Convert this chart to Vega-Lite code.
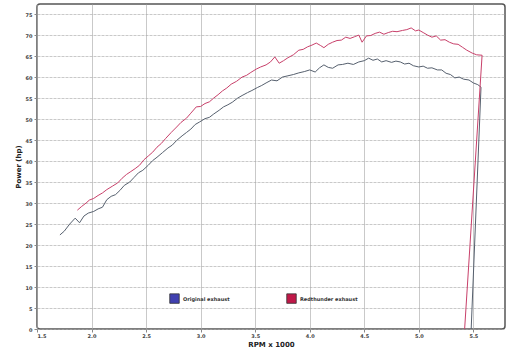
{
  "$schema": "https://vega.github.io/schema/vega-lite/v6.json",
  "width": 468,
  "height": 325,
  "autosize": {"type": "none"},
  "padding": {"left": 37, "top": 4, "right": 4, "bottom": 21},
  "background": "white",
  "config": {
    "view": {"stroke": "#555", "strokeWidth": 1.5, "cornerRadius": 3},
    "font": "DejaVu Sans",
    "axis": {"labelFontSize": 5, "labelColor": "#444", "labelFontWeight": "bold", "titleFontSize": 7, "titleFontWeight": "bold", "titleColor": "#222", "domain": false, "tickColor": "#888", "tickSize": 3}
  },
  "data": {"values": [
    {"series": "Original exhaust", "rpm": 1.71, "hp": 22.4},
    {"series": "Original exhaust", "rpm": 1.75, "hp": 23.3},
    {"series": "Original exhaust", "rpm": 1.80, "hp": 25.0},
    {"series": "Original exhaust", "rpm": 1.85, "hp": 26.4},
    {"series": "Original exhaust", "rpm": 1.89, "hp": 25.3},
    {"series": "Original exhaust", "rpm": 1.93, "hp": 26.9},
    {"series": "Original exhaust", "rpm": 1.97, "hp": 27.6},
    {"series": "Original exhaust", "rpm": 2.02, "hp": 28.0},
    {"series": "Original exhaust", "rpm": 2.06, "hp": 28.6},
    {"series": "Original exhaust", "rpm": 2.10, "hp": 29.0},
    {"series": "Original exhaust", "rpm": 2.14, "hp": 30.8},
    {"series": "Original exhaust", "rpm": 2.18, "hp": 31.6},
    {"series": "Original exhaust", "rpm": 2.22, "hp": 32.0},
    {"series": "Original exhaust", "rpm": 2.26, "hp": 33.0},
    {"series": "Original exhaust", "rpm": 2.30, "hp": 34.2},
    {"series": "Original exhaust", "rpm": 2.35, "hp": 35.0},
    {"series": "Original exhaust", "rpm": 2.39, "hp": 36.1},
    {"series": "Original exhaust", "rpm": 2.43, "hp": 37.2},
    {"series": "Original exhaust", "rpm": 2.47, "hp": 37.8},
    {"series": "Original exhaust", "rpm": 2.52, "hp": 39.0},
    {"series": "Original exhaust", "rpm": 2.56, "hp": 40.1},
    {"series": "Original exhaust", "rpm": 2.60, "hp": 40.9},
    {"series": "Original exhaust", "rpm": 2.65, "hp": 42.0},
    {"series": "Original exhaust", "rpm": 2.70, "hp": 43.1},
    {"series": "Original exhaust", "rpm": 2.74, "hp": 43.8},
    {"series": "Original exhaust", "rpm": 2.78, "hp": 44.9},
    {"series": "Original exhaust", "rpm": 2.83, "hp": 46.0},
    {"series": "Original exhaust", "rpm": 2.87, "hp": 46.8},
    {"series": "Original exhaust", "rpm": 2.91, "hp": 47.6},
    {"series": "Original exhaust", "rpm": 2.95, "hp": 48.7},
    {"series": "Original exhaust", "rpm": 2.99, "hp": 49.3},
    {"series": "Original exhaust", "rpm": 3.04, "hp": 50.1},
    {"series": "Original exhaust", "rpm": 3.08, "hp": 50.4},
    {"series": "Original exhaust", "rpm": 3.12, "hp": 51.2},
    {"series": "Original exhaust", "rpm": 3.17, "hp": 52.1},
    {"series": "Original exhaust", "rpm": 3.21, "hp": 52.9},
    {"series": "Original exhaust", "rpm": 3.25, "hp": 53.4},
    {"series": "Original exhaust", "rpm": 3.29, "hp": 54.0},
    {"series": "Original exhaust", "rpm": 3.34, "hp": 55.0},
    {"series": "Original exhaust", "rpm": 3.38, "hp": 55.6},
    {"series": "Original exhaust", "rpm": 3.43, "hp": 56.3},
    {"series": "Original exhaust", "rpm": 3.47, "hp": 56.8},
    {"series": "Original exhaust", "rpm": 3.52, "hp": 57.5},
    {"series": "Original exhaust", "rpm": 3.56, "hp": 58.0},
    {"series": "Original exhaust", "rpm": 3.60, "hp": 58.6},
    {"series": "Original exhaust", "rpm": 3.65, "hp": 59.3},
    {"series": "Original exhaust", "rpm": 3.70, "hp": 59.1},
    {"series": "Original exhaust", "rpm": 3.75, "hp": 60.0},
    {"series": "Original exhaust", "rpm": 3.80, "hp": 60.3},
    {"series": "Original exhaust", "rpm": 3.85, "hp": 60.6},
    {"series": "Original exhaust", "rpm": 3.90, "hp": 61.0},
    {"series": "Original exhaust", "rpm": 3.95, "hp": 61.3},
    {"series": "Original exhaust", "rpm": 4.00, "hp": 61.7},
    {"series": "Original exhaust", "rpm": 4.05, "hp": 61.2},
    {"series": "Original exhaust", "rpm": 4.09, "hp": 62.2},
    {"series": "Original exhaust", "rpm": 4.13, "hp": 62.9},
    {"series": "Original exhaust", "rpm": 4.17, "hp": 62.3},
    {"series": "Original exhaust", "rpm": 4.21, "hp": 62.1},
    {"series": "Original exhaust", "rpm": 4.26, "hp": 62.9},
    {"series": "Original exhaust", "rpm": 4.30, "hp": 63.0},
    {"series": "Original exhaust", "rpm": 4.35, "hp": 63.3},
    {"series": "Original exhaust", "rpm": 4.40, "hp": 63.0},
    {"series": "Original exhaust", "rpm": 4.45, "hp": 63.6},
    {"series": "Original exhaust", "rpm": 4.50, "hp": 63.9},
    {"series": "Original exhaust", "rpm": 4.54, "hp": 64.5},
    {"series": "Original exhaust", "rpm": 4.58, "hp": 64.0},
    {"series": "Original exhaust", "rpm": 4.62, "hp": 64.3},
    {"series": "Original exhaust", "rpm": 4.66, "hp": 63.6},
    {"series": "Original exhaust", "rpm": 4.70, "hp": 63.9},
    {"series": "Original exhaust", "rpm": 4.75, "hp": 63.5},
    {"series": "Original exhaust", "rpm": 4.79, "hp": 63.8},
    {"series": "Original exhaust", "rpm": 4.83, "hp": 63.6},
    {"series": "Original exhaust", "rpm": 4.87, "hp": 63.1},
    {"series": "Original exhaust", "rpm": 4.91, "hp": 63.3},
    {"series": "Original exhaust", "rpm": 4.95, "hp": 62.7},
    {"series": "Original exhaust", "rpm": 5.00, "hp": 62.4},
    {"series": "Original exhaust", "rpm": 5.04, "hp": 62.6},
    {"series": "Original exhaust", "rpm": 5.08, "hp": 62.1},
    {"series": "Original exhaust", "rpm": 5.12, "hp": 62.2},
    {"series": "Original exhaust", "rpm": 5.17, "hp": 61.7},
    {"series": "Original exhaust", "rpm": 5.21, "hp": 61.7},
    {"series": "Original exhaust", "rpm": 5.25, "hp": 60.9},
    {"series": "Original exhaust", "rpm": 5.29, "hp": 60.6},
    {"series": "Original exhaust", "rpm": 5.33, "hp": 59.8},
    {"series": "Original exhaust", "rpm": 5.37, "hp": 60.0},
    {"series": "Original exhaust", "rpm": 5.41, "hp": 59.5},
    {"series": "Original exhaust", "rpm": 5.46, "hp": 59.3},
    {"series": "Original exhaust", "rpm": 5.50, "hp": 58.6},
    {"series": "Original exhaust", "rpm": 5.54, "hp": 58.2},
    {"series": "Original exhaust", "rpm": 5.57, "hp": 57.6},
    {"series": "Original exhaust", "rpm": 5.48, "hp": 0},
    {"series": "Redthunder exhaust", "rpm": 1.87, "hp": 28.3},
    {"series": "Redthunder exhaust", "rpm": 1.91, "hp": 29.2},
    {"series": "Redthunder exhaust", "rpm": 1.95, "hp": 30.0},
    {"series": "Redthunder exhaust", "rpm": 1.98, "hp": 30.7},
    {"series": "Redthunder exhaust", "rpm": 2.02, "hp": 31.1},
    {"series": "Redthunder exhaust", "rpm": 2.06, "hp": 31.8},
    {"series": "Redthunder exhaust", "rpm": 2.10, "hp": 32.4},
    {"series": "Redthunder exhaust", "rpm": 2.14, "hp": 33.2},
    {"series": "Redthunder exhaust", "rpm": 2.19, "hp": 34.0},
    {"series": "Redthunder exhaust", "rpm": 2.24, "hp": 34.8},
    {"series": "Redthunder exhaust", "rpm": 2.28, "hp": 35.9},
    {"series": "Redthunder exhaust", "rpm": 2.32, "hp": 36.8},
    {"series": "Redthunder exhaust", "rpm": 2.36, "hp": 37.5},
    {"series": "Redthunder exhaust", "rpm": 2.40, "hp": 38.2},
    {"series": "Redthunder exhaust", "rpm": 2.44, "hp": 39.0},
    {"series": "Redthunder exhaust", "rpm": 2.48, "hp": 40.3},
    {"series": "Redthunder exhaust", "rpm": 2.52, "hp": 41.2},
    {"series": "Redthunder exhaust", "rpm": 2.56, "hp": 42.1},
    {"series": "Redthunder exhaust", "rpm": 2.60, "hp": 43.3},
    {"series": "Redthunder exhaust", "rpm": 2.64, "hp": 44.2},
    {"series": "Redthunder exhaust", "rpm": 2.68, "hp": 45.4},
    {"series": "Redthunder exhaust", "rpm": 2.73, "hp": 46.8},
    {"series": "Redthunder exhaust", "rpm": 2.78, "hp": 48.1},
    {"series": "Redthunder exhaust", "rpm": 2.82, "hp": 49.2},
    {"series": "Redthunder exhaust", "rpm": 2.87, "hp": 50.2},
    {"series": "Redthunder exhaust", "rpm": 2.91, "hp": 51.4},
    {"series": "Redthunder exhaust", "rpm": 2.96, "hp": 52.9},
    {"series": "Redthunder exhaust", "rpm": 3.00, "hp": 53.0},
    {"series": "Redthunder exhaust", "rpm": 3.04, "hp": 53.7},
    {"series": "Redthunder exhaust", "rpm": 3.08, "hp": 54.1},
    {"series": "Redthunder exhaust", "rpm": 3.12, "hp": 55.0},
    {"series": "Redthunder exhaust", "rpm": 3.16, "hp": 55.8},
    {"series": "Redthunder exhaust", "rpm": 3.20, "hp": 56.7},
    {"series": "Redthunder exhaust", "rpm": 3.24, "hp": 57.4},
    {"series": "Redthunder exhaust", "rpm": 3.28, "hp": 58.3},
    {"series": "Redthunder exhaust", "rpm": 3.33, "hp": 59.0},
    {"series": "Redthunder exhaust", "rpm": 3.38, "hp": 60.0},
    {"series": "Redthunder exhaust", "rpm": 3.42, "hp": 60.4},
    {"series": "Redthunder exhaust", "rpm": 3.46, "hp": 61.1},
    {"series": "Redthunder exhaust", "rpm": 3.51, "hp": 61.9},
    {"series": "Redthunder exhaust", "rpm": 3.55, "hp": 62.4},
    {"series": "Redthunder exhaust", "rpm": 3.60, "hp": 62.9},
    {"series": "Redthunder exhaust", "rpm": 3.64, "hp": 63.6},
    {"series": "Redthunder exhaust", "rpm": 3.68, "hp": 64.8},
    {"series": "Redthunder exhaust", "rpm": 3.72, "hp": 63.3},
    {"series": "Redthunder exhaust", "rpm": 3.76, "hp": 63.9},
    {"series": "Redthunder exhaust", "rpm": 3.80, "hp": 64.6},
    {"series": "Redthunder exhaust", "rpm": 3.85, "hp": 65.3},
    {"series": "Redthunder exhaust", "rpm": 3.90, "hp": 66.4},
    {"series": "Redthunder exhaust", "rpm": 3.94, "hp": 66.6},
    {"series": "Redthunder exhaust", "rpm": 3.98, "hp": 67.2},
    {"series": "Redthunder exhaust", "rpm": 4.02, "hp": 67.6},
    {"series": "Redthunder exhaust", "rpm": 4.06, "hp": 68.1},
    {"series": "Redthunder exhaust", "rpm": 4.10, "hp": 67.5},
    {"series": "Redthunder exhaust", "rpm": 4.13, "hp": 67.0},
    {"series": "Redthunder exhaust", "rpm": 4.17, "hp": 67.8},
    {"series": "Redthunder exhaust", "rpm": 4.21, "hp": 68.3},
    {"series": "Redthunder exhaust", "rpm": 4.25, "hp": 68.7},
    {"series": "Redthunder exhaust", "rpm": 4.29, "hp": 68.8},
    {"series": "Redthunder exhaust", "rpm": 4.33, "hp": 69.5},
    {"series": "Redthunder exhaust", "rpm": 4.37, "hp": 69.2},
    {"series": "Redthunder exhaust", "rpm": 4.41, "hp": 69.6},
    {"series": "Redthunder exhaust", "rpm": 4.45, "hp": 70.0},
    {"series": "Redthunder exhaust", "rpm": 4.48, "hp": 68.3},
    {"series": "Redthunder exhaust", "rpm": 4.52, "hp": 69.8},
    {"series": "Redthunder exhaust", "rpm": 4.56, "hp": 69.9},
    {"series": "Redthunder exhaust", "rpm": 4.60, "hp": 70.4},
    {"series": "Redthunder exhaust", "rpm": 4.64, "hp": 70.7},
    {"series": "Redthunder exhaust", "rpm": 4.68, "hp": 70.2},
    {"series": "Redthunder exhaust", "rpm": 4.72, "hp": 70.6},
    {"series": "Redthunder exhaust", "rpm": 4.76, "hp": 70.9},
    {"series": "Redthunder exhaust", "rpm": 4.80, "hp": 70.8},
    {"series": "Redthunder exhaust", "rpm": 4.85, "hp": 71.1},
    {"series": "Redthunder exhaust", "rpm": 4.89, "hp": 71.3},
    {"series": "Redthunder exhaust", "rpm": 4.93, "hp": 71.7},
    {"series": "Redthunder exhaust", "rpm": 4.97, "hp": 71.0},
    {"series": "Redthunder exhaust", "rpm": 5.00, "hp": 71.2},
    {"series": "Redthunder exhaust", "rpm": 5.04, "hp": 70.6},
    {"series": "Redthunder exhaust", "rpm": 5.08, "hp": 70.0},
    {"series": "Redthunder exhaust", "rpm": 5.12, "hp": 69.5},
    {"series": "Redthunder exhaust", "rpm": 5.16, "hp": 69.8},
    {"series": "Redthunder exhaust", "rpm": 5.20, "hp": 68.8},
    {"series": "Redthunder exhaust", "rpm": 5.24, "hp": 68.9},
    {"series": "Redthunder exhaust", "rpm": 5.28, "hp": 68.3},
    {"series": "Redthunder exhaust", "rpm": 5.32, "hp": 67.9},
    {"series": "Redthunder exhaust", "rpm": 5.36, "hp": 67.8},
    {"series": "Redthunder exhaust", "rpm": 5.40, "hp": 67.1},
    {"series": "Redthunder exhaust", "rpm": 5.44, "hp": 66.4},
    {"series": "Redthunder exhaust", "rpm": 5.49, "hp": 65.7},
    {"series": "Redthunder exhaust", "rpm": 5.53, "hp": 65.3},
    {"series": "Redthunder exhaust", "rpm": 5.58, "hp": 65.2},
    {"series": "Redthunder exhaust", "rpm": 5.42, "hp": 0}
  ]},
  "encoding": {
    "x": {"field": "rpm", "type": "quantitative", "scale": {"domain": [1.5, 5.79], "nice": false, "zero": false},
      "axis": {"title": "RPM x 1000", "values": [1.5, 2, 2.5, 3, 3.5, 4, 4.5, 5, 5.5], "format": ".1f", "gridColor": "#aaa", "gridWidth": 0.8, "gridOpacity": 0.8, "titlePadding": 2, "labelPadding": 1}},
    "y": {"field": "hp", "type": "quantitative", "scale": {"domain": [0, 77.4], "nice": false},
      "axis": {"title": "Power (hp)", "values": [0, 5, 10, 15, 20, 25, 30, 35, 40, 45, 50, 55, 60, 65, 70, 75], "gridColor": "#aaa", "gridDash": [3, 1], "gridWidth": 0.8, "gridOpacity": 0.8, "titlePadding": 4, "labelPadding": 2}}
  },
  "layer": [
    {
      "mark": {"type": "line", "strokeWidth": 1},
      "encoding": {
        "color": {"field": "series", "type": "nominal", "scale": {"domain": ["Original exhaust", "Redthunder exhaust"], "range": ["#56606e", "#c8406a"]}, "legend": null},
        "order": {"value": null}
      }
    },
    {
      "mark": {"type": "point", "opacity": 0},
      "encoding": {
        "fill": {"field": "series", "type": "nominal", "scale": {"domain": ["Original exhaust", "Redthunder exhaust"], "range": ["#4040b0", "#c01848"]},
          "legend": {"orient": "none", "legendX": 132, "legendY": 289, "direction": "horizontal", "title": null, "symbolType": "square", "symbolSize": 90, "symbolOpacity": 1, "symbolStrokeColor": "#333", "symbolStrokeWidth": 0.8, "labelFontSize": 5, "labelFontWeight": "bold", "labelColor": "#333", "columnPadding": 55, "labelOffset": 3}}
      }
    }
  ],
  "resolve": {"scale": {"color": "independent"}}
}
